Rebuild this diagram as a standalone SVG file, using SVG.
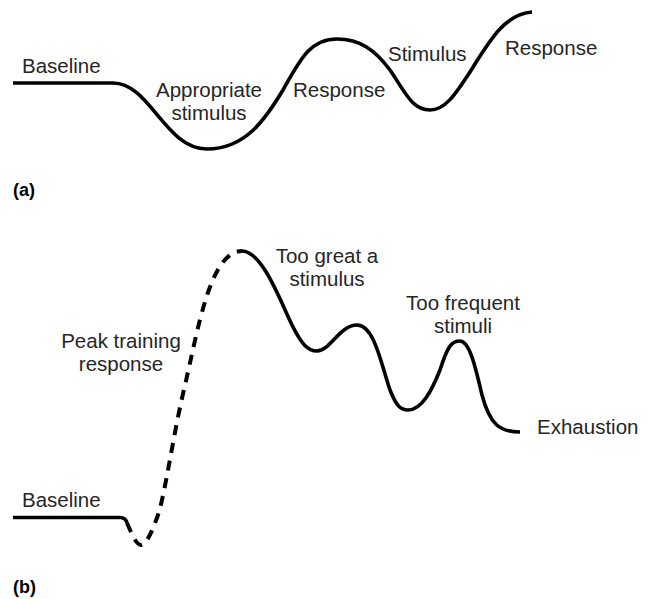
<svg xmlns="http://www.w3.org/2000/svg" width="647" height="599" viewBox="0 0 647 599">
<style>
text{font-family:"Liberation Sans",Arial,sans-serif;font-size:20.5px;fill:#262626}
.c{text-anchor:middle}
.lab{font-weight:bold;font-size:18px;fill:#000}
.curve{fill:none;stroke:#000;stroke-width:3.6;stroke-linecap:butt;stroke-linejoin:round}
.dash{stroke-width:4;stroke-dasharray:10 8}
</style>
<rect width="647" height="599" fill="#fff"/>
<g id="connectors">
<path id="curve-a" class="curve" d="M13,83 L113,83 C150,83 165,149 207,149 C245,149 265,120 283,90 C300,60 310,39 337,39 C360,39 375,50 390,70 C405,92 412,110 430,110 C445,110 455,95 470,72 C490,40 505,14 532,12"/>
<path id="curve-b-base" class="curve" d="M13,517.5 L120,517.5 C124,517.5 126,519 127,523"/>
<path id="curve-b-peak" class="curve dash" d="M127,523 C131,532 136,545 141,545 C146,545 152,532 158,515 C166,490 172,440 185,385 C198,330 210,251 242,251"/>
<path id="curve-b-decline" class="curve" d="M242,251 C262,251 280,300 292,325 C302,345 308,351 317,351 C330,351 340,325 357,325 C375,325 382,368 390,390 C396,405 400,410 408,410 C422,410 432,390 440,370 C448,345 452,341 460,341 C470,341 476,370 482,395 C490,425 500,432 520,432"/>
</g>
<g id="panel-a">
<g id="a-baseline"><text x="22" y="73">Baseline</text></g>
<g id="a-appropriate"><text class="c" x="209" y="97">Appropriate</text><text class="c" x="209" y="120">stimulus</text></g>
<g id="a-response1"><text x="293" y="97">Response</text></g>
<g id="a-stimulus"><text x="388" y="61">Stimulus</text></g>
<g id="a-response2"><text x="505" y="55">Response</text></g>
<g id="a-label"><text class="lab" x="13" y="196">(a)</text></g>
</g>
<g id="panel-b">
<g id="b-baseline"><text x="22" y="507">Baseline</text></g>
<g id="b-peak"><text class="c" x="121" y="348">Peak training</text><text class="c" x="121" y="371">response</text></g>
<g id="b-toogreat"><text class="c" x="327" y="263">Too great a</text><text class="c" x="327" y="286">stimulus</text></g>
<g id="b-toofrequent"><text class="c" x="463" y="310">Too frequent</text><text class="c" x="463" y="333">stimuli</text></g>
<g id="b-exhaustion"><text x="537" y="434">Exhaustion</text></g>
<g id="b-label"><text class="lab" x="13" y="593">(b)</text></g>
</g>
</svg>
